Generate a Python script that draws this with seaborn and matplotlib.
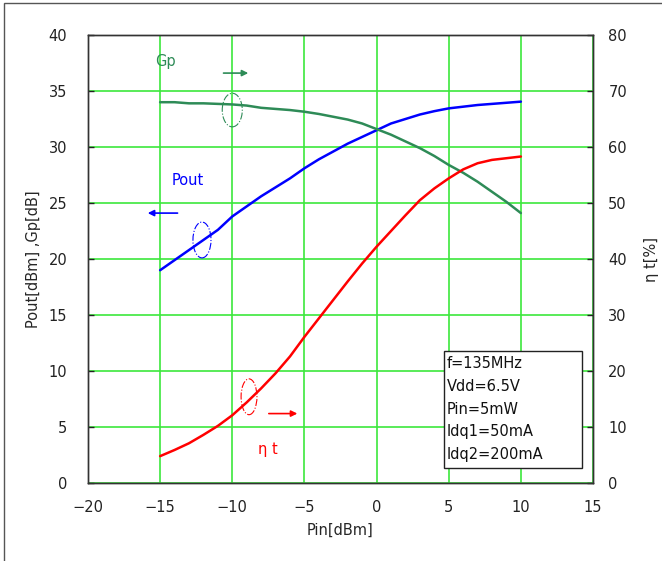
import numpy as np
import pandas as pd
import matplotlib
matplotlib.use("Agg")
import matplotlib.pyplot as plt
from matplotlib.patches import Ellipse, Rectangle
import seaborn as sns

# input power sweep [dBm]
pin = [-15, -14, -13, -12, -11, -10, -9, -8, -7, -6, -5, -4, -3,
       -2, -1, 0, 1, 2, 3, 4, 5, 6, 7, 8, 9, 10]

pout = [19.0, 19.9, 20.8, 21.7, 22.6, 23.8, 24.7, 25.6, 26.4, 27.2, 28.1, 28.9, 29.6,
        30.3, 30.9, 31.5, 32.1, 32.5, 32.9, 33.2, 33.45, 33.6, 33.75, 33.85, 33.95, 34.05]

gp = [34.0, 34.0, 33.9, 33.9, 33.85, 33.8, 33.7, 33.5, 33.4, 33.3, 33.15, 32.95, 32.7,
      32.45, 32.1, 31.6, 31.1, 30.5, 29.9, 29.2, 28.4, 27.7, 26.9, 26.0, 25.1, 24.1]

eta = [4.8, 5.9, 7.1, 8.6, 10.2, 12.1, 14.4, 16.9, 19.6, 22.6, 26.1, 29.4, 32.7,
       36.0, 39.2, 42.2, 45.0, 47.8, 50.5, 52.6, 54.4, 56.0, 57.1, 57.7, 58.0, 58.3]

conditions = ["f=135MHz", "Vdd=6.5V", "Pin=5mW", "Idq1=50mA", "Idq2=200mA"]

df = pd.DataFrame({"Pin": pin, "Pout": pout, "Gp": gp, "eta": eta})

sns.set_style("white")
plt.rcParams['font.family'] = ['DejaVu Sans', 'Noto Sans CJK JP']
plt.rcParams['axes.unicode_minus'] = True

GRID = "#3ce83c"
BLUE = "#0000ff"
GREEN = "#2e8b57"
RED = "#ff0000"
FS = 10.5

fig = plt.figure(figsize=(6.62, 5.61), dpi=100)
ax = fig.add_axes([0.1329, 0.139, 0.7629, 0.7986])
ax2 = ax.twinx()

sns.lineplot(data=df, x="Pin", y="Pout", ax=ax, color=BLUE, lw=1.8)
sns.lineplot(data=df, x="Pin", y="Gp", ax=ax, color=GREEN, lw=1.8)
sns.lineplot(data=df, x="Pin", y="eta", ax=ax2, color=RED, lw=1.8)

ax.set_xlim(-20, 15)
ax.set_ylim(0, 40)
ax2.set_ylim(0, 80)
ax.set_xticks(np.arange(-20, 16, 5))
ax.set_yticks(np.arange(0, 41, 5))
ax2.set_yticks(np.arange(0, 81, 10))

ax.grid(True, color=GRID, lw=1.2)
ax.set_axisbelow(True)

for a in (ax, ax2):
    a.tick_params(direction="in", length=4, width=1, labelsize=FS, colors="#222222")
    for s in a.spines.values():
        s.set_color("#333333")
        s.set_linewidth(1.0)
ax.tick_params(axis="y", pad=15)
ax.tick_params(axis="x", pad=12)
ax2.tick_params(axis="y", pad=11)

ax.set_xlabel("Pin[dBm]", fontsize=FS, labelpad=6)
ax.set_ylabel("Pout[dBm] ,Gp[dB]", fontsize=FS, labelpad=5)
ax2.set_ylabel("η t[%]", fontsize=FS, rotation=90, labelpad=12)

# series annotations
ax.text(-14.66, 37.6, "Gp", color=GREEN, fontsize=FS, ha="center", va="center")
ax.annotate("", xy=(-8.7, 36.6), xytext=(-10.8, 36.6),
            arrowprops=dict(arrowstyle="-|>", color=GREEN, lw=1.2, mutation_scale=9))
ax.add_patch(Ellipse((-10.0, 33.3), 1.39, 3.0, fill=False, ec=GREEN, lw=0.8, ls="-."))

ax.text(-13.07, 27.05, "Pout", color=BLUE, fontsize=FS, ha="center", va="center")
ax.annotate("", xy=(-16.05, 24.1), xytext=(-13.6, 24.1),
            arrowprops=dict(arrowstyle="-|>", color=BLUE, lw=1.2, mutation_scale=9))
ax.add_patch(Ellipse((-12.1, 21.7), 1.25, 3.2, fill=False, ec=BLUE, lw=0.8, ls="-."))

ax.text(-7.5, 2.95, "η t", color=RED, fontsize=FS, ha="center", va="center")
ax.annotate("", xy=(-5.3, 6.2), xytext=(-7.66, 6.2),
            arrowprops=dict(arrowstyle="-|>", color=RED, lw=1.2, mutation_scale=9))
ax.add_patch(Ellipse((-8.84, 7.7), 1.1, 3.2, fill=False, ec=RED, lw=0.8, ls="-."))

# measurement conditions box
ax.add_patch(Rectangle((4.67, 1.34), 9.56, 10.45, fc="white", ec="#222222", lw=1.0, zorder=3))
ax.text(4.88, 11.3, "\n".join(conditions), fontsize=FS, ha="left", va="top",
        linespacing=1.63, color="#111111", zorder=4)

# outer frame
fig.add_artist(Rectangle((4 / 662, -0.1), 1.1, 1 - 3 / 561 + 0.1, transform=fig.transFigure,
                         fill=False, ec="#555555", lw=1.0))

fig.savefig("out.png", dpi=100)
